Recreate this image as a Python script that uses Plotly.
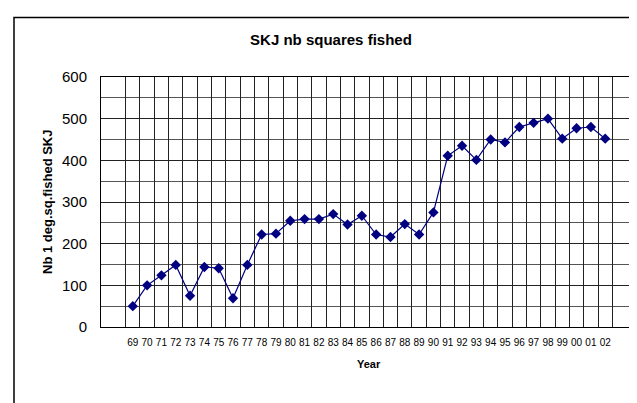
import plotly.graph_objects as go

years = ["69","70","71","72","73","74","75","76","77","78","79","80","81","82","83","84","85",
         "86","87","88","89","90","91","92","93","94","95","96","97","98","99","00","01","02"]
squares = [50,100,124,149,75,144,141,69,149,222,224,255,259,259,271,246,267,
           222,216,247,222,275,411,435,401,450,443,480,490,500,452,477,480,452]

fig = go.Figure()
fig.add_trace(go.Scatter(
    x=years, y=squares, mode="lines+markers",
    line=dict(color="#000080", width=1.2),
    marker=dict(symbol="diamond", size=8, color="#000080"),
    showlegend=False,
))

font = "Liberation Sans, Arial, sans-serif"
fig.update_layout(
    width=637, height=403,
    margin=dict(l=93, r=8, t=69, b=84, autoexpand=False),
    paper_bgcolor="white", plot_bgcolor="white",
    font=dict(family=font, color="black"),
    title=dict(text="<b>SKJ nb squares fished</b>", x=0.507, xanchor="center",
               y=1 - 32 / 403, yanchor="middle", font=dict(size=15, family=font)),
    xaxis=dict(
        type="category", tickson="boundaries", showgrid=True, gridcolor="#222",
        gridwidth=1, ticks="", tickangle=0, tickfont=dict(size=10),
        ticklabelstandoff=6,
        showline=True, linecolor="black", mirror=True, automargin=False,
    ),
    yaxis=dict(
        range=[0, 600], dtick=100, showgrid=True, gridcolor="#222", gridwidth=1,
        minor=dict(dtick=50, showgrid=True, gridcolor="#555", gridwidth=1),
        ticks="", tickfont=dict(size=15), ticklabelstandoff=10,
        showline=True, linecolor="black", mirror=True, zeroline=False,
        automargin=False,
    ),
    annotations=[
        dict(text="<b>Nb 1 deg.sq.fished SKJ</b>", textangle=-90,
             xref="paper", yref="paper", x=(39 - 93) / 536, y=0.5,
             xanchor="center", yanchor="middle", showarrow=False,
             font=dict(size=13, family=font)),
        dict(text="<b>Year</b>", xref="paper", yref="paper",
             x=0.5, y=-(355 - 318) / 250, xanchor="center", yanchor="middle",
             showarrow=False, font=dict(size=11, family=font)),
    ],
    shapes=[dict(type="rect", xref="paper", yref="paper",
                 x0=(6 - 93) / 536, x1=1.05, y0=-0.45, y1=1 + (69 - 9.5) / 250,
                 line=dict(color="black", width=1.5), fillcolor="rgba(0,0,0,0)")],
)

fig.write_html("out.html")
